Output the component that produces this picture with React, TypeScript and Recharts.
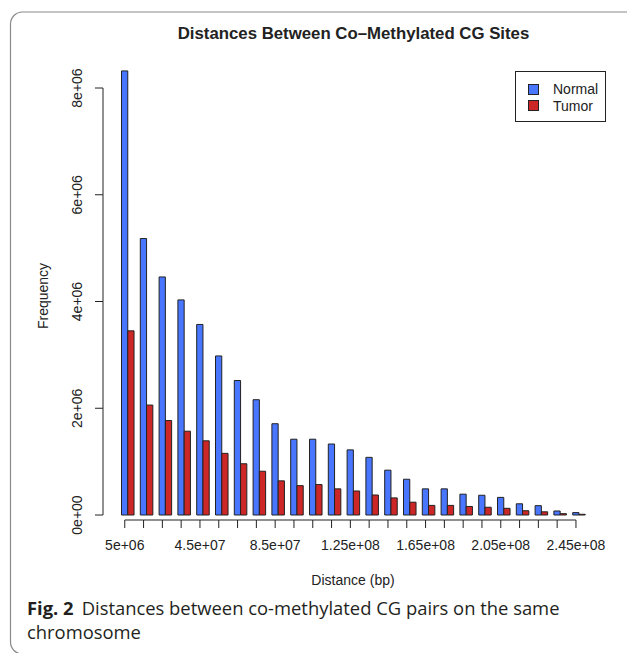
import { BarChart, Bar, XAxis, YAxis, Legend } from 'recharts'

// Bin midpoints (bp)
const distances = [
  5e6, 1.5e7, 2.5e7, 3.5e7, 4.5e7, 5.5e7, 6.5e7, 7.5e7, 8.5e7, 9.5e7, 1.05e8, 1.15e8, 1.25e8,
  1.35e8, 1.45e8, 1.55e8, 1.65e8, 1.75e8, 1.85e8, 1.95e8, 2.05e8, 2.15e8, 2.25e8, 2.35e8, 2.45e8,
]

const normalCounts = [
  8320000, 5180000, 4460000, 4030000, 3570000, 2980000, 2520000, 2160000, 1710000, 1420000,
  1420000, 1330000, 1220000, 1080000, 840000, 670000, 490000, 490000, 390000, 370000, 330000,
  210000, 175000, 75000, 45000,
]

const tumorCounts = [
  3450000, 2060000, 1770000, 1570000, 1390000, 1155000, 960000, 820000, 640000, 550000, 570000,
  490000, 450000, 375000, 320000, 240000, 180000, 180000, 160000, 145000, 125000, 80000, 60000,
  25000, 13000,
]

const yTicks = [0, 2e6, 4e6, 6e6, 8e6]
const labeledDistances = [5e6, 4.5e7, 8.5e7, 1.25e8, 1.65e8, 2.05e8, 2.45e8]

const data = distances.map((d, i) => ({
  distance: d,
  Normal: normalCounts[i],
  Tumor: tumorCounts[i],
}))

// layout
const W = 627
const H = 653
const PLOT_LEFT = 118.5
const PLOT_RIGHT = 588.5
const PLOT_BOTTOM = 515
const Y_MAX = 9e6
const PX_PER_COUNT = 53.375 / 1e6
const PLOT_TOP = PLOT_BOTTOM - Y_MAX * PX_PER_COUNT
const Y_AXIS_W = 60
const X_AXIS_H = 50
const BAND = (PLOT_RIGHT - PLOT_LEFT) / distances.length
const BAR_W = BAND / 3
const Y_STEP = 2e6 * PX_PER_COUNT
const AXIS_GAP = 15.5

const BLUE = '#4876FF'
const RED = '#CD2626'
const INK = '#222'
const FONT = '"Liberation Sans", Arial, Helvetica, sans-serif'
const CAPTION_FONT = '"Open Sans", "Noto Sans", sans-serif'

// R-style scientific notation, e.g. 4.5e+07
function sci(v: number): string {
  if (v === 0) return '0e+00'
  const e = Math.floor(Math.log10(v))
  const m = +(v / Math.pow(10, e)).toFixed(2)
  return `${m}e+${String(e).padStart(2, '0')}`
}

function XTick(props: any) {
  const { x, y, payload, index } = props
  const tx = x - BAR_W / 2
  const last = index === distances.length - 1
  return (
    <g>
      {!last && (
        <line x1={tx} x2={tx + BAND} y1={y + 5} y2={y + 5} stroke={INK} strokeWidth={1} />
      )}
      <line x1={tx} x2={tx} y1={y + 5} y2={y + 13} stroke={INK} strokeWidth={1} />
      {labeledDistances.includes(payload.value) && (
        <text x={tx} y={y + 35} textAnchor="middle" fontSize={14} fill={INK} fontFamily={FONT}>
          {sci(payload.value)}
        </text>
      )}
    </g>
  )
}

function YTick(props: any) {
  const { x, y, payload } = props
  const ax = x - AXIS_GAP
  const top = payload.value === yTicks[yTicks.length - 1]
  return (
    <g>
      {!top && <line x1={ax} x2={ax} y1={y} y2={y - Y_STEP} stroke={INK} strokeWidth={1} />}
      <line x1={ax - 8} x2={ax} y1={y} y2={y} stroke={INK} strokeWidth={1} />
      <text
        x={ax - 21}
        y={y}
        transform={`rotate(-90 ${ax - 21} ${y})`}
        textAnchor="middle"
        fontSize={14}
        fill={INK}
        fontFamily={FONT}
      >
        {sci(payload.value)}
      </text>
    </g>
  )
}

function LegendBox({ payload }: any) {
  return (
    <div
      style={{
        border: `1px solid ${INK}`,
        width: 91,
        height: 51,
        boxSizing: 'border-box',
        padding: '9px 0 0 12px',
        fontFamily: FONT,
        fontSize: 14,
        color: INK,
        background: '#fff',
      }}
    >
      {(payload || []).map((entry: any) => (
        <div key={entry.value} style={{ display: 'flex', alignItems: 'center', height: 16.5 }}>
          <span
            style={{
              width: 9,
              height: 9,
              background: entry.color,
              border: `1px solid ${INK}`,
              marginRight: 14,
            }}
          />
          <span>{entry.value}</span>
        </div>
      ))}
    </div>
  )
}

export default function App() {
  return (
    <div style={{ position: 'absolute', left: 0, top: 0, width: W, height: H, background: '#fff' }}>
      {/* figure frame */}
      <svg width={W} height={H} style={{ position: 'absolute', left: 0, top: 0 }}>
        <rect x={10.5} y={12} width={640} height={642} rx={12} fill="none" stroke="#8a8a8a" strokeWidth={1.2} />
      </svg>

      <div
        style={{
          position: 'absolute',
          left: PLOT_LEFT - 20,
          width: PLOT_RIGHT - PLOT_LEFT + 40,
          top: 24,
          textAlign: 'center',
          fontFamily: FONT,
          fontWeight: 'bold',
          fontSize: 16.8,
          color: INK,
        }}
      >
        Distances Between Co–Methylated CG Sites
      </div>

      <div style={{ position: 'absolute', left: 0, top: 0 }}>
        <BarChart
          width={W}
          height={H}
          data={data}
          barGap={0}
          margin={{
            top: PLOT_TOP,
            right: W - PLOT_RIGHT,
            left: PLOT_LEFT - Y_AXIS_W,
            bottom: H - PLOT_BOTTOM - X_AXIS_H,
          }}
        >
          <XAxis
            dataKey="distance"
            type="category"
            interval={0}
            height={X_AXIS_H}
            axisLine={false}
            tickLine={false}
            tickSize={0}
            tickMargin={0}
            tick={<XTick />}
          />
          <YAxis
            type="number"
            domain={[0, Y_MAX]}
            ticks={yTicks}
            interval={0}
            width={Y_AXIS_W}
            axisLine={false}
            tickLine={false}
            tickSize={0}
            tickMargin={0}
            tick={<YTick />}
          />
          <Legend
            layout="horizontal"
            align="center"
            verticalAlign="middle"
            wrapperStyle={{ position: 'absolute', left: 515, top: 71, width: 91 }}
            content={<LegendBox />}
          />
          <Bar dataKey="Normal" fill={BLUE} stroke={INK} strokeWidth={1} barSize={BAR_W} isAnimationActive={false} />
          <Bar dataKey="Tumor" fill={RED} stroke={INK} strokeWidth={1} barSize={BAR_W} isAnimationActive={false} />
        </BarChart>
      </div>

      <div
        style={{
          position: 'absolute',
          left: 25,
          top: 572,
          fontFamily: FONT,
          fontSize: 14,
          color: INK,
          width: 656,
          textAlign: 'center',
        }}
      >
        Distance (bp)
      </div>

      <div
        style={{
          position: 'absolute',
          left: 43,
          top: 296,
          transform: 'translate(-50%, -50%) rotate(-90deg)',
          fontFamily: FONT,
          fontSize: 14,
          color: INK,
          whiteSpace: 'nowrap',
        }}
      >
        Frequency
      </div>

      {/* figure caption */}
      <div
        style={{
          position: 'absolute',
          left: 27,
          top: 596,
          fontFamily: CAPTION_FONT,
          fontSize: 18.4,
          lineHeight: '24px',
          color: '#231f20',
          whiteSpace: 'nowrap',
        }}
      >
        <div>
          <span style={{ fontWeight: 'bold', marginRight: 8 }}>Fig. 2</span>
          <span>Distances between co-methylated CG pairs on the same</span>
        </div>
        <div>chromosome</div>
      </div>
    </div>
  )
}
